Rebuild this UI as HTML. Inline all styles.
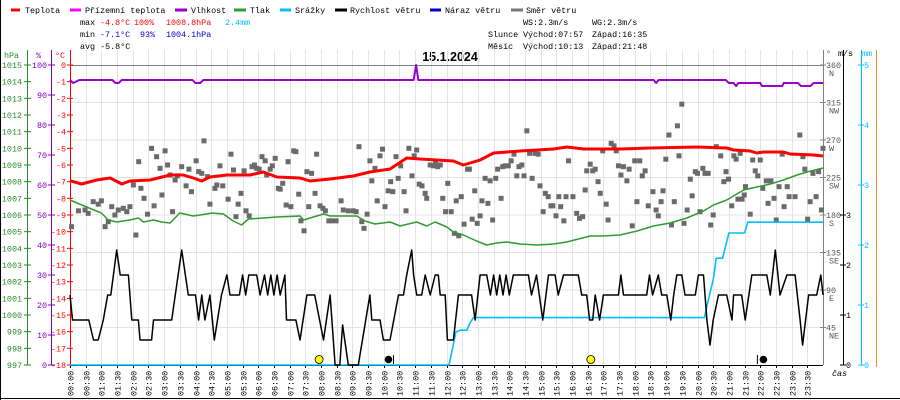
<!DOCTYPE html>
<html><head><meta charset="utf-8"><style>
html,body{margin:0;padding:0;background:#fff;}
svg{display:block;font-family:"Liberation Mono","DejaVu Sans Mono",monospace;font-size:8.4px;}
</style></head><body>
<svg id="chart" width="900" height="400" viewBox="0 0 900 400" xmlns="http://www.w3.org/2000/svg">
<rect x="0" y="0" width="900" height="400" fill="#fff"/>
<line x1="0.5" y1="0" x2="0.5" y2="400" stroke="#000"/>
<line x1="0" y1="398.5" x2="900" y2="398.5" stroke="#000"/>
<g>
 <g><line x1="11" y1="10" x2="20" y2="10" stroke="#f00" stroke-width="3"/><text x="25" y="13">Teplota</text></g>
 <g><line x1="70" y1="10" x2="81" y2="10" stroke="#f0f" stroke-width="3"/><text x="85" y="13">Přízemní teplota</text></g>
 <g><line x1="175" y1="10" x2="187" y2="10" stroke="#9900cc" stroke-width="3"/><text x="191" y="13">Vlhkost</text></g>
 <g><line x1="234" y1="10" x2="246" y2="10" stroke="#339933" stroke-width="3"/><text x="250" y="13">Tlak</text></g>
 <g><line x1="280" y1="10" x2="291" y2="10" stroke="#00bfff" stroke-width="3"/><text x="295" y="13">Srážky</text></g>
 <g><line x1="335" y1="10" x2="347" y2="10" stroke="#000" stroke-width="3"/><text x="350" y="13">Rychlost větru</text></g>
 <g><line x1="430" y1="10" x2="441" y2="10" stroke="#0000cc" stroke-width="3"/><text x="445" y="13">Náraz větru</text></g>
 <g><line x1="511" y1="10" x2="523" y2="10" stroke="#777" stroke-width="3"/><text x="526" y="13">Směr větru</text></g>
</g>
<g>
 <text x="80" y="25">max</text><text x="100" y="25" fill="#f00">-4.8°C</text><text x="134" y="25" fill="#f00">100%</text><text x="166" y="25" fill="#f00">1008.8hPa</text><text x="225" y="25" fill="#00bfff">2.4mm</text>
 <text x="80" y="37">min</text><text x="100" y="37" fill="#0000cc">-7.1°C</text><text x="140" y="37" fill="#0000cc">93%</text><text x="166" y="37" fill="#0000cc">1004.1hPa</text>
 <text x="80" y="49">avg -5.8°C</text>
 <text x="523" y="25">WS:2.3m/s</text><text x="592" y="25">WG:2.3m/s</text>
 <text x="488" y="37">Slunce</text><text x="523" y="37">Východ:07:57</text><text x="592" y="37">Západ:16:35</text>
 <text x="488" y="49">Měsíc</text><text x="523" y="49">Východ:10:13</text><text x="592" y="49">Západ:21:48</text>
</g>
<text x="450" y="61" text-anchor="middle" font-family="Liberation Sans, sans-serif" font-weight="bold" font-size="12.5">15.1.2024</text>
<g id="grid"></g>
<g id="axes"></g>
<g id="series"></g>
</svg>
<script>
// ---- data ----
const tempT = [0,0.37,0.85,1.28,1.65,1.91,2.55,3.19,3.61,3.93,4.2,4.46,5.0,5.74,6.16,6.59,7.33,7.65,8.29,9.03,9.56,10.2,10.73,11.16,12.22,12.54,13.07,13.5,14.35,15.41,15.83,16.37,17.53,18.49,19.98,20.93,21.15,21.68,21.89,22.1,22.74,22.95,23.7,24];
const tempV = [-6.94,-7.14,-6.9,-6.78,-7.14,-6.96,-6.9,-6.6,-6.6,-6.78,-6.96,-6.72,-6.6,-6.6,-6.42,-6.72,-6.78,-6.96,-6.84,-6.66,-6.42,-6.24,-5.58,-5.64,-5.76,-6.0,-5.7,-5.28,-5.16,-5.04,-4.92,-5.04,-5.04,-4.98,-4.92,-4.98,-5.1,-5.16,-5.28,-5.22,-5.22,-5.34,-5.4,-5.46];
const presT = [0,0.53,1.0,1.22,1.49,1.91,2.18,2.34,2.66,2.92,3.19,3.5,3.93,4.36,4.52,4.89,5.2,5.47,5.69,6.16,6.59,7.33,7.44,8.08,8.29,8.71,9.14,9.4,9.72,10.2,10.52,11.05,11.37,11.64,12.01,12.22,12.54,12.96,13.28,13.6,13.92,14.35,14.88,15.41,15.83,16.58,17.0,17.53,18.07,18.6,19.13,19.66,20.19,20.51,20.93,21.47,21.89,22.32,22.74,23.17,23.49,24];
const presV = [1006.9,1006.48,1006.12,1005.7,1005.58,1005.7,1005.82,1005.58,1005.7,1005.58,1005.52,1006.12,1005.94,1006.06,1006.12,1006.06,1005.64,1005.4,1005.76,1005.82,1005.88,1005.94,1005.7,1006.06,1005.94,1005.94,1005.94,1005.64,1005.46,1005.58,1005.34,1005.58,1005.34,1005.58,1005.28,1004.98,1004.8,1004.44,1004.2,1004.32,1004.38,1004.26,1004.2,1004.26,1004.38,1004.74,1004.74,1004.8,1005.04,1005.34,1005.52,1005.82,1006.24,1006.6,1006.9,1007.5,1007.68,1007.86,1008.1,1008.4,1008.58,1008.82];
const humT = [0,0.1,0.3,1.35,1.45,1.55,1.65,3.9,4.0,4.15,4.25,10.95,11.03,11.1,18.6,18.68,18.76,20.9,21.0,21.15,21.23,21.3,22.0,22.05,22.7,22.75,23.2,23.3,23.6,23.7,24];
const humV = [95,94,95,95,94,94,95,95,94,94,95,95,100,95,95,94,95,95,94,94,93,94,94,93,93,94,94,93,93,94,94];
const windT = [0,0.08,0.6,0.75,0.9,1.06,1.2,1.3,1.49,1.6,1.86,1.97,2.18,2.23,2.6,2.66,3.24,3.56,3.77,4.0,4.1,4.2,4.3,4.46,4.6,4.83,5.0,5.1,5.4,5.5,5.6,5.7,5.95,6.06,6.2,6.3,6.4,6.5,6.6,6.7,6.85,6.9,7.2,7.33,7.55,7.8,8.08,8.29,8.45,8.6,8.69,8.87,9.19,9.56,9.62,9.88,9.99,10.2,10.47,10.63,10.73,10.89,10.95,11.05,11.21,11.32,11.48,11.64,11.74,11.8,11.96,12.03,12.22,12.38,12.8,12.91,13.07,13.28,13.4,13.5,13.6,13.7,13.8,13.9,14.0,14.13,14.61,14.71,14.87,15.07,15.25,15.46,15.56,15.73,16.2,16.31,16.47,16.56,16.66,16.74,16.88,17.0,17.48,17.56,17.64,18.38,18.47,18.57,18.75,18.86,19.02,19.15,19.24,19.34,19.5,19.6,19.93,20.03,20.19,20.3,20.4,20.5,20.67,20.93,21.1,21.15,21.41,21.52,21.73,22.21,22.32,22.48,22.63,22.85,23.11,23.27,23.35,23.54,23.8,23.93,24.0];
const windV = [1.4,0.9,0.9,0.5,0.5,0.9,1.4,1.4,2.3,1.8,1.8,0.9,0.9,0.5,0.5,0.9,0.9,2.3,1.4,1.4,0.9,1.4,0.9,1.4,0.5,1.4,1.8,1.4,1.4,1.8,1.4,1.8,1.8,1.4,1.8,1.4,1.8,1.4,1.8,1.4,1.8,0.9,0.9,0.5,1.4,1.4,0.5,1.4,0,0,0.8,0,0,1.4,0.9,0.9,0.5,0.5,1.4,1.4,1.8,2.3,1.8,1.4,1.4,1.8,1.4,1.8,1.8,1.4,1.4,0.5,0.5,1.4,1.4,0.9,1.8,1.8,1.4,1.8,1.4,1.8,1.4,1.8,1.4,1.8,1.8,1.4,1.8,0.9,1.8,1.8,1.4,1.8,1.8,1.4,1.4,0.9,0.9,1.4,0.9,1.4,1.4,1.8,1.4,1.4,1.8,1.4,1.8,1.4,1.4,0.9,1.4,1.8,1.8,1.4,1.4,1.8,1.8,0.9,0.4,0.9,1.4,1.4,0.9,1.4,1.4,0.9,1.8,1.8,1.4,2.3,1.4,1.8,1.8,0.9,0.4,1.4,1.4,1.8,1.4];
const rainT = [0,12.08,12.2,12.3,12.43,12.65,12.75,12.86,20.22,20.3,20.4,20.5,20.6,20.8,21.0,21.1,21.5,21.6,24];
const rainV = [0,0,0.3,0.55,0.58,0.58,0.7,0.79,0.79,0.98,1.2,1.42,1.78,1.78,2.2,2.2,2.2,2.38,2.38];
const dirT = [0.05,0.27,0.48,0.58,0.74,0.9,1.0,1.12,1.22,1.33,1.43,1.54,1.7,1.81,1.91,2.02,2.1,2.19,2.26,2.36,2.47,2.6,2.68,2.76,2.87,2.93,3.03,3.11,3.19,3.27,3.35,3.42,3.56,3.7,3.79,3.87,4.02,4.1,4.2,4.27,4.38,4.46,4.62,4.68,4.78,4.87,5.04,5.13,5.21,5.29,5.36,5.45,5.55,5.61,5.71,5.8,5.88,5.95,6.03,6.12,6.22,6.27,6.38,6.45,6.54,6.64,6.7,6.78,6.89,6.95,7.04,7.13,7.2,7.29,7.36,7.46,7.55,7.61,7.7,7.81,7.86,7.97,8.06,8.14,8.25,8.34,8.48,8.64,8.71,8.87,9.03,9.12,9.21,9.3,9.37,9.47,9.56,9.62,9.72,9.79,9.88,9.96,10.04,10.14,10.22,10.29,10.39,10.46,10.54,10.65,10.71,10.8,10.9,10.97,11.05,11.13,11.22,11.32,11.37,11.48,11.58,11.65,11.72,11.8,11.88,11.97,12.04,12.15,12.25,12.31,12.39,12.47,12.56,12.67,12.73,12.82,12.9,12.98,13.07,13.13,13.23,13.32,13.39,13.47,13.57,13.63,13.74,13.79,13.87,13.97,14.06,14.15,14.24,14.31,14.4,14.47,14.56,14.65,14.73,14.82,14.92,14.98,15.08,15.15,15.24,15.33,15.39,15.49,15.58,15.64,15.74,15.81,15.89,16.03,16.15,16.24,16.34,16.42,16.47,16.58,16.66,16.74,16.83,16.9,16.98,17.09,17.15,17.25,17.34,17.41,17.48,17.56,17.64,17.75,17.82,17.92,18.0,18.07,18.16,18.24,18.33,18.43,18.58,18.68,18.75,18.84,18.9,18.99,19.09,19.17,19.26,19.36,19.41,19.5,19.57,19.67,19.77,19.83,19.93,20.0,20.08,20.17,20.24,20.34,20.42,20.5,20.6,20.74,20.84,20.91,20.99,21.09,21.16,21.23,21.29,21.36,21.42,21.49,21.53,21.68,21.76,21.84,21.92,22.0,22.08,22.19,22.25,22.34,22.44,22.51,22.6,22.7,22.76,22.86,22.92,23.11,23.26,23.36,23.42,23.51,23.59,23.68,23.78,23.86,23.95,24.0];
const dirV = [166,185,186,182,196,193,197,166,172,190,180,186,188,184,190,216,156,244,212,200,181,260,191,250,236,204,257,240,228,184,222,227,238,215,235,208,245,232,230,269,226,193,212,216,239,215,199,253,234,178,193,206,233,185,179,238,240,236,235,250,245,228,235,239,248,212,211,218,192,244,190,257,256,205,173,161,232,190,230,206,253,191,188,185,173,173,173,197,186,185,185,184,262,172,164,181,245,221,236,197,251,259,190,209,220,208,250,224,239,208,185,260,227,251,258,217,215,206,200,240,239,242,238,240,200,184,218,184,158,197,155,202,169,235,235,175,209,170,179,197,224,194,221,174,224,235,200,238,239,239,245,253,227,238,240,227,281,254,224,254,253,215,184,206,202,191,191,179,202,190,173,202,245,202,182,176,178,210,233,241,233,235,220,206,257,193,174,266,263,257,239,228,238,221,235,167,245,196,245,227,233,191,208,186,179,196,209,247,276,168,196,287,251,313,170,186,223,203,232,230,184,236,230,230,168,180,262,251,220,232,223,191,251,247,199,254,199,204,214,181,246,233,227,246,212,221,194,221,200,174,214,253,190,214,202,202,276,250,235,175,196,230,202,232,186,260];
const eventT = [7.94, 10.15, 16.6, 22.1];
const eventKind = ['sun','dot','sun','dot'];
const timeLabels = [];
for (let i=0;i<48;i++){const h=Math.floor(i/2);timeLabels.push((h<10?'0':'')+h+':'+(i%2?'30':'00'));}
const hpaTicks=[1015,1014,1013,1012,1011,1010,1009,1008,1007,1006,1005,1004,1003,1002,1001,1000,999,998,997];
const humTicks=[100,90,80,70,60,50,40,30,20,10,0];
const dirTicks=[360,315,270,225,180,135,90,45];
const dirNames=['N','NW','W','SW','S','SE','E','NE'];

// ---- scales ----
const X0=70,X1=823,Y0=65,Y1=365;
const xs=h=>X0+h*(X1-X0)/24;
const yTemp=t=>Y0+(-t)*(Y1-Y0)/18;
const yPres=p=>Y0+(1015-p)*(Y1-Y0)/18;
const yHum=v=>Y0+(100-v)*(Y1-Y0)/100;
const yDir=d=>Y1-d*(Y1-Y0)/360;
const yWind=v=>Y1-v*50;
const yRain=v=>Y1-v*60;

const NS='http://www.w3.org/2000/svg';
function mk(parent,tag,attrs,txt){const e=document.createElementNS(NS,tag);for(const k in attrs)e.setAttribute(k,attrs[k]);if(txt!==undefined)e.textContent=txt;parent.appendChild(e);return e;}
const grid=document.getElementById('grid'),axes=document.getElementById('axes'),ser=document.getElementById('series');

for(let i=0;i<=48;i++){const x=Math.round(xs(i/2))+0.5;const l=mk(grid,'line',{x1:x,y1:50,x2:x,y2:Y1,stroke:'#e4e4e4'});

}
for(let k=1;k<8;k++){const y=Y0+k*37.5;const l=mk(grid,'line',{x1:X0,y1:y,x2:X1,y2:y,stroke:'#e4e4e4'});

}
mk(grid,'line',{x1:X0,y1:Y0+0.5,x2:X1,y2:Y0+0.5,stroke:'#808080'});

// left axes
mk(axes,'text',{x:4,y:58,fill:'#2a8a2a'},'hPa');
mk(axes,'line',{x1:27.5,y1:50,x2:27.5,y2:Y1,stroke:'#2a8a2a'});
hpaTicks.forEach(p=>{const y=yPres(p);const t=mk(axes,'text',{x:22,y:y+3,fill:'#2a8a2a','text-anchor':'end'},String(p));


mk(axes,'line',{x1:24,y1:y,x2:31,y2:y,stroke:'#2a8a2a'});});
mk(axes,'text',{x:36,y:58,fill:'#8000c0'},'%');
mk(axes,'line',{x1:51.5,y1:50,x2:51.5,y2:Y1,stroke:'#8000c0'});
humTicks.forEach(v=>{const y=yHum(v);const t=mk(axes,'text',{x:47,y:y+3,fill:'#8000c0','text-anchor':'end'},String(v));


mk(axes,'line',{x1:48,y1:y,x2:55,y2:y,stroke:'#8000c0'});});
mk(axes,'text',{x:55,y:58,fill:'#f00'},'°C');
mk(axes,'line',{x1:70.5,y1:50,x2:70.5,y2:Y1,stroke:'#f00'});
for(let t=0;t>=-18;t--){const y=yTemp(t);const e=mk(axes,'text',{x:66,y:y+3,fill:'#f00','text-anchor':'end'},String(t));


mk(axes,'line',{x1:67,y1:y,x2:73,y2:y,stroke:'#f00'});}

// right axes
mk(axes,'line',{x1:823.5,y1:50,x2:823.5,y2:Y1,stroke:'#808080'});
mk(axes,'text',{x:826,y:56,fill:'#555'},'°');
dirTicks.forEach((d,i)=>{const y=yDir(d);mk(axes,'line',{x1:820,y1:y,x2:826,y2:y,stroke:'#808080'});
const e=mk(axes,'text',{x:826,y:y+3,fill:'#555'},String(d));


mk(axes,'text',{x:829,y:y+11,fill:'#555'},dirNames[i]);});
mk(axes,'line',{x1:843.5,y1:50,x2:843.5,y2:Y1,stroke:'#000'});
mk(axes,'text',{x:838,y:56},'m/s');
[0,1,2,3].forEach(v=>{const y=yWind(v);mk(axes,'line',{x1:840,y1:y,x2:846,y2:y,stroke:'#000'});const e=mk(axes,'text',{x:846,y:y+3},String(v));

});
mk(axes,'line',{x1:861.5,y1:50,x2:861.5,y2:Y1,stroke:'#00bfff'});
mk(axes,'text',{x:862,y:56,fill:'#00bfff'},'mm');
[0,1,2,3,4,5].forEach(v=>{const y=yRain(v);mk(axes,'line',{x1:858,y1:y,x2:864,y2:y,stroke:'#00bfff'});const e=mk(axes,'text',{x:864,y:y+3,fill:'#00bfff'},String(v));

});
mk(axes,'line',{x1:876.5,y1:50,x2:876.5,y2:367,stroke:'#e89030'});

// x axis
mk(axes,'line',{x1:X0,y1:Y1+0.5,x2:X1,y2:Y1+0.5,stroke:'#000'});
timeLabels.forEach((lab,i)=>{const x=Math.round(xs(i/2))+0.5;mk(axes,'line',{x1:x,y1:Y1,x2:x,y2:Y1+3,stroke:'#000'});
const e=mk(axes,'text',{x:0,y:0,transform:'translate('+(x+3)+',396) rotate(-90)'},lab);

});
mk(axes,'text',{x:832,y:376,'font-style':'italic'},'čas');

// series
function line(T,V,yf,color,w,name){const d=T.map((t,i)=>(i?'L':'M')+xs(t).toFixed(1)+','+yf(V[i]).toFixed(1)).join('');
const p=mk(ser,'path',{d:d,fill:'none',stroke:color,'stroke-width':w,'stroke-linejoin':'round'});

}
dirT.forEach((t,i)=>{const r=mk(ser,'rect',{x:xs(t)-2.5,y:yDir(dirV[i])-2.5,width:5,height:5,fill:'#6a6a6a'});

});
line(humT,humV,yHum,'#9900cc',2,'humidity-line');
line(presT,presV,yPres,'#339933',1.5,'pressure-line');
line(tempT,tempV,yTemp,'#f00',3,'temperature-line');
line(rainT,rainV,yRain,'#00bfff',1.6,'rain-line');
line(windT,windV,yWind,'#000',1.5,'wind-speed-line');
eventT.forEach((t,i)=>{const x=xs(t);let e;
if(eventKind[i]==='sun'){e=mk(ser,'circle',{cx:x,cy:359.5,r:4,fill:'#ffff00',stroke:'#000','stroke-width':0.8});}
else{e=mk(ser,'circle',{cx:x,cy:359.5,r:3.8,fill:'#000'});mk(ser,'line',{x1:x+(i===1?5:-6),y1:355,x2:x+(i===1?5:-6),y2:364,stroke:'#000'});}

});
</script>
</body></html>
